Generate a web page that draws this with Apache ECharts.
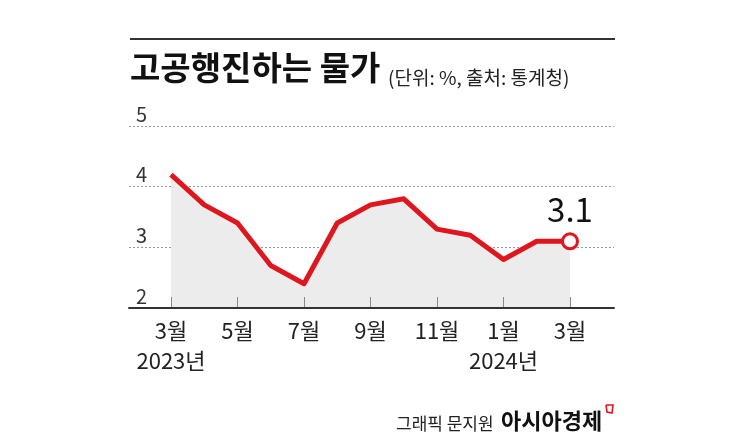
<!DOCTYPE html>
<html><head><meta charset="utf-8">
<script src="https://cdn.jsdelivr.net/npm/echarts@6/dist/echarts.min.js"></script>
<style>html,body{margin:0;padding:0;background:#fff}#c{width:745px;height:446px}</style>
</head><body><div id="c"></div>
<script>
var categories = ['2023-03','2023-04','2023-05','2023-06','2023-07','2023-08','2023-09','2023-10','2023-11','2023-12','2024-01','2024-02','2024-03'];
var xTickLabels = ['3월\n2023년','4월','5월','6월','7월','8월','9월','10월','11월','12월','1월\n2024년','2월','3월'];
var cpi = [4.2, 3.7, 3.4, 2.7, 2.4, 3.4, 3.7, 3.8, 3.3, 3.2, 2.8, 3.1, 3.1];
var yTicks = [2, 3, 4, 5];
var titleText = '고공행진하는 물가';
var subText = '(단위: %, 출처: 통계청)';
var creditText = '그래픽 문지원';
var brandText = '아시아경제';

var RED = '#e0161f';
var FONT = '"Noto Sans CJK KR", "Noto Sans", sans-serif';
var chart = echarts.init(document.getElementById('c'));

var seriesData = cpi.map(function (v, i) {
  if (i === cpi.length - 1) {
    return {
      value: v, symbol: 'circle', symbolSize: 15,
      itemStyle: { color: '#fff', borderColor: RED, borderWidth: 3 },
      label: { show: true, position: 'top', distance: 6, formatter: function (p) { return p.value.toFixed(1); },
        fontSize: 33, color: '#111', fontFamily: FONT }
    };
  }
  return v;
});

chart.setOption({
  animation: false,
  backgroundColor: '#fff',
  title: [{
    text: titleText, left: 125, top: 46,
    textStyle: { fontFamily: FONT, fontSize: 33, fontWeight: 'bold', color: '#111' }
  }, {
    text: subText, left: 383, top: 63,
    textStyle: { fontFamily: FONT, fontSize: 19, fontWeight: 'normal', color: '#222' }
  }, {
    text: creditText, left: 391, top: 410,
    textStyle: { fontFamily: FONT, fontSize: 17, fontWeight: 'normal', color: '#222' }
  }, {
    text: brandText, left: 496, top: 405,
    textStyle: { fontFamily: FONT, fontSize: 22, fontWeight: 'bold', color: '#111' }
  }],
  graphic: [{
    type: 'line', shape: { x1: 130, y1: 39, x2: 615, y2: 39 },
    style: { stroke: '#333', lineWidth: 2 }
  }, {
    type: 'polyline', shape: { points: [[606, 405], [613, 405], [612, 413], [607, 412], [606, 405]] },
    style: { stroke: RED, lineWidth: 1.6, fill: 'none' }
  }],
  grid: [
    { left: 129, right: 131, top: 126, bottom: 138 },
    { left: 171, right: 175, top: 126, bottom: 138 }
  ],
  xAxis: [{
    gridIndex: 0, type: 'value', min: 0, max: 1, z: 8,
    axisLine: { show: true, lineStyle: { color: '#333', width: 2 } },
    axisTick: { show: false }, axisLabel: { show: false }, splitLine: { show: false }
  }, {
    gridIndex: 1, type: 'category', data: categories, boundaryGap: false, z: 7,
    axisLine: { show: false },
    axisTick: { show: true, inside: true, length: 11, interval: 1, lineStyle: { color: '#888', width: 1 } },
    axisLabel: {
      interval: 1, margin: 8, fontSize: 22, lineHeight: 30, color: '#222', fontFamily: FONT,
      formatter: function (v, i) { return xTickLabels[i]; }
    },
    splitLine: { show: false }
  }],
  yAxis: [{
    gridIndex: 0, type: 'value', min: yTicks[0], max: yTicks[yTicks.length - 1], interval: 1,
    axisLine: { show: false }, axisTick: { show: false },
    axisLabel: { inside: true, margin: 7, verticalAlign: 'bottom', align: 'left', padding: [0, 0, 2, 0],
      fontSize: 20, color: '#333', fontFamily: FONT },
    splitLine: { show: true, lineStyle: { color: '#999', type: [2, 2], width: 1 } }
  }, {
    gridIndex: 1, type: 'value', min: yTicks[0], max: yTicks[yTicks.length - 1], interval: 1,
    show: false
  }],
  series: [{
    type: 'line', xAxisIndex: 1, yAxisIndex: 1, data: seriesData,
    symbol: 'none', showSymbol: true, z: 5,
    lineStyle: { color: RED, width: 5, join: 'round' },
    areaStyle: { color: '#ececec', opacity: 1 },
    itemStyle: { color: RED }
  }]
});
</script></body></html>
